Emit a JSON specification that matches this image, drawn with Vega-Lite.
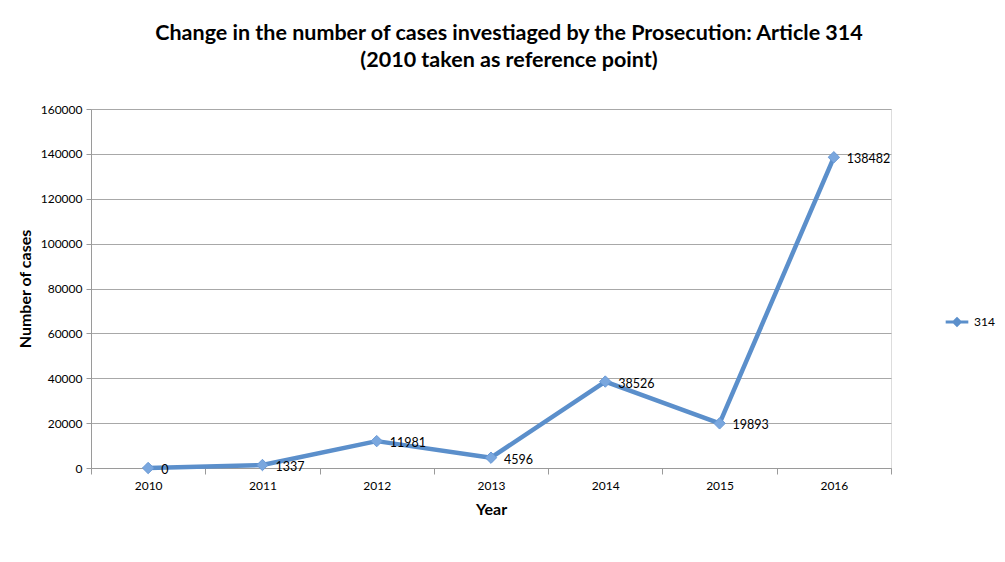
{
  "$schema": "https://vega.github.io/schema/vega-lite/v6.json",
  "width": 800,
  "height": 359,
  "autosize": {"type": "none"},
  "padding": {"left": 91, "top": 109, "right": 114, "bottom": 94},
  "background": "white",
  "title": {
    "text": ["Change in the number of cases investiaged by the Prosecution: Article 314", "(2010 taken as reference point)"],
    "anchor": "middle",
    "dx": 18,
    "offset": 32,
    "font": "Lato",
    "fontSize": 21.5,
    "fontWeight": "bold",
    "lineHeight": 27,
    "color": "black"
  },
  "data": {
    "values": [
      {"Year": "2010", "Cases": 0, "Series": "314"},
      {"Year": "2011", "Cases": 1337, "Series": "314"},
      {"Year": "2012", "Cases": 11981, "Series": "314"},
      {"Year": "2013", "Cases": 4596, "Series": "314"},
      {"Year": "2014", "Cases": 38526, "Series": "314"},
      {"Year": "2015", "Cases": 19893, "Series": "314"},
      {"Year": "2016", "Cases": 138482, "Series": "314"}
    ]
  },
  "encoding": {
    "x": {
      "field": "Year", "type": "ordinal",
      "scale": {"type": "band", "paddingInner": 0, "paddingOuter": 0},
      "axis": {
        "title": "Year", "labelAngle": 0, "tickBand": "extent",
        "titleFont": "Lato", "titleFontSize": 16, "titleFontWeight": "bold", "titleColor": "black",
        "titlePadding": 10,
        "labelFont": "Lato", "labelFontSize": 12, "labelColor": "black", "labelPadding": 6,
        "domainColor": "#9a9a9a", "tickColor": "#9a9a9a", "tickSize": 6, "grid": false
      }
    },
    "y": {
      "field": "Cases", "type": "quantitative",
      "scale": {"domain": [0, 160000], "nice": false},
      "axis": {
        "title": "Number of cases", "tickCount": 9, "values": [0,20000,40000,60000,80000,100000,120000,140000,160000],
        "format": "d", "labelOverlap": false,
        "titleFont": "Lato", "titleFontSize": 16, "titleFontWeight": "bold", "titleColor": "black",
        "titlePadding": 7,
        "labelFont": "Lato", "labelFontSize": 12, "labelColor": "black", "labelPadding": 4,
        "domainColor": "#9a9a9a", "tickColor": "#9a9a9a", "tickSize": 5,
        "grid": true, "gridColor": "#a8a8a8", "gridWidth": 1.2
      }
    }
  },
  "layer": [
    {
      "mark": {"type": "line", "strokeWidth": 4.5, "color": "#5b8fcb", "strokeCap": "round", "strokeJoin": "round"},
      "encoding": {
        "color": {
          "field": "Series", "type": "nominal",
          "scale": {"range": ["#5b8fcb"]},
          "legend": {
            "title": null, "orient": "none", "legendX": 857, "legendY": 204,
            "symbolType": "M-1.6,0H1.6M0,-0.45L0.45,0L0,0.45L-0.45,0Z",
            "symbolSize": 200, "symbolStrokeWidth": 3,
            "symbolStrokeColor": "#5b8fcb", "symbolFillColor": "#7aa7de",
            "labelFont": "Lato", "labelFontSize": 12, "labelColor": "black", "labelOffset": 8
          }
        }
      }
    },
    {
      "mark": {"type": "point", "shape": "diamond", "filled": true, "size": 130, "color": "#7aa7de", "stroke": "#6a9ad6", "strokeWidth": 1, "opacity": 1}
    },
    {
      "mark": {"type": "text", "align": "left", "baseline": "middle", "dx": 13, "dy": 2, "font": "Lato", "fontSize": 12.5, "color": "black"},
      "encoding": {"text": {"field": "Cases", "type": "quantitative", "format": "d"}}
    }
  ]
}
